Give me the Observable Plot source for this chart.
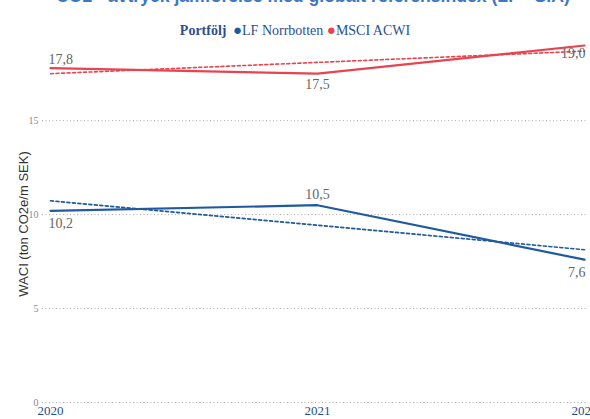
<!DOCTYPE html>
<html><head><meta charset="utf-8">
<script src="https://cdn.jsdelivr.net/npm/d3@7"></script>
<script src="https://cdn.jsdelivr.net/npm/@observablehq/plot@0.6"></script>
<style>
body{margin:0;background:#fff;width:590px;overflow:hidden}
#title{height:12px;overflow:hidden;position:relative}
#title span{position:absolute;left:56px;bottom:6px;white-space:nowrap;font:bold 17px "Liberation Sans",Arial,sans-serif;color:#3a78c2;line-height:1}
#legend{height:26px;text-align:center;font:14px "Liberation Serif",serif;color:#2b4f8f;line-height:26px;padding-top:5px;box-sizing:border-box}
#legend b{margin-right:3px}
#legend .dot{font-size:15px}
</style></head>
<body>
<div id="title"><span>CO2 - avtryck jämförelse med globalt referensindex (LF - SIA)</span></div>
<div id="legend"></div>
<div id="chart"></div>
<script>
const years = [2020, 2021, 2022];
const seriesNames = ["LF Norrbotten", "MSCI ACWI"];
const lfValues = [10.2, 10.5, 7.6];
const msciValues = [17.8, 17.5, 19.0];
const yTicks = [0, 5, 10, 15];
const colors = ["#1f5aa0", "#e8434f"];

const lf = years.map((y, i) => ({year: y, value: lfValues[i], series: seriesNames[0], i}));
const msci = years.map((y, i) => ({year: y, value: msciValues[i], series: seriesNames[1], i}));
const fmt = v => v.toFixed(1).replace(".", ",");

// fit the (clipped) title to the reference width
const ts = document.querySelector("#title span");
const w0 = ts.getBoundingClientRect().width;
ts.style.fontSize = (17 * 514 / w0).toFixed(2) + "px";

document.getElementById("legend").innerHTML =
  `<b>Portfölj</b> <span class="dot" style="color:${colors[0]}">●</span>${seriesNames[0]} <span class="dot" style="color:${colors[1]}">●</span>${seriesNames[1]}`;

// label placement per point index: [dx, dy, anchor]
const lfPlace = [[-2, 13, "start"], [0, -11, "middle"], [1, 13, "end"]];
const msPlace = [[-2, -9, "start"], [0, 11, "middle"], [1, 8, "end"]];

const labelMarks = (rows, place) => rows.map((r, i) =>
  Plot.text(rows.filter(d => d.i === i), {
    x: "year", y: "value", text: d => fmt(d.value),
    dx: place[i][0], dy: place[i][1], textAnchor: place[i][2],
    fontSize: 14, fontFamily: "Liberation Serif, serif", fill: "#666"
  }));

const chart = Plot.plot({
  width: 590, height: 381,
  marginLeft: 42, marginRight: 4, marginTop: 7, marginBottom: 17,
  x: {domain: [2020, 2022], insetLeft: 8, insetRight: 2},
  y: {domain: [0, 19]},
  marks: [
    Plot.gridY(yTicks, {stroke: "#aaa", strokeOpacity: 1, strokeDasharray: "1,2.5"}),
    Plot.axisY(yTicks, {tickSize: 0, tickPadding: 4, fontSize: 10, fontFamily: "Liberation Serif, serif", color: "#8a8a8a", label: null}),
    Plot.axisY({ticks: [], label: "WACI (ton CO2e/m SEK)", labelAnchor: "center", labelArrow: "none", labelOffset: 24, fontSize: 13, fontFamily: "Liberation Sans, Arial, sans-serif", color: "#333"}),
    Plot.axisX(years, {tickSize: 0, tickPadding: 3, fontSize: 13, fontFamily: "Liberation Serif, serif", color: "#1f4e8f", tickFormat: d => String(d), label: null}),
    Plot.linearRegressionY(msci, {x: "year", y: "value", stroke: colors[1], strokeWidth: 1.6, strokeDasharray: "3,2.5", ci: 0}),
    Plot.linearRegressionY(lf, {x: "year", y: "value", stroke: colors[0], strokeWidth: 1.6, strokeDasharray: "3,2.5", ci: 0}),
    Plot.line(msci, {x: "year", y: "value", stroke: colors[1], strokeWidth: 2.2}),
    Plot.line(lf, {x: "year", y: "value", stroke: colors[0], strokeWidth: 2.2}),
    ...labelMarks(msci, msPlace),
    ...labelMarks(lf, lfPlace)
  ]
});
document.getElementById("chart").appendChild(chart);
</script>
</body></html>
